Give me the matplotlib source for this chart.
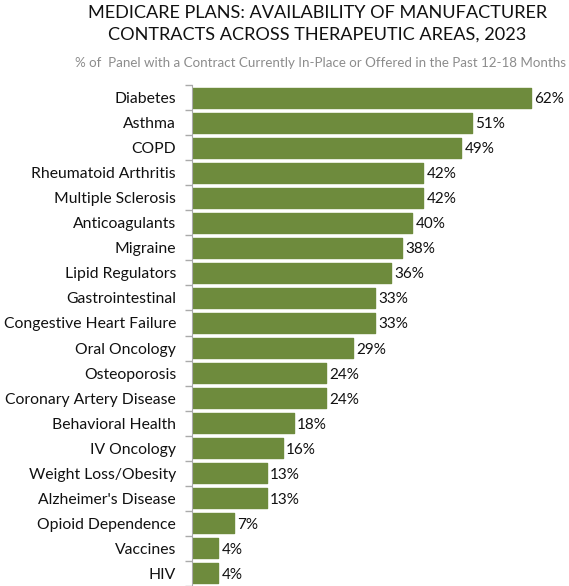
import numpy as np
import matplotlib
matplotlib.use('Agg')
import matplotlib.pyplot as plt

# Data
areas = ['Diabetes', 'Asthma', 'COPD', 'Rheumatoid Arthritis', 'Multiple Sclerosis',
         'Anticoagulants', 'Migraine', 'Lipid Regulators', 'Gastrointestinal',
         'Congestive Heart Failure', 'Oral Oncology', 'Osteoporosis',
         'Coronary Artery Disease', 'Behavioral Health', 'IV Oncology',
         'Weight Loss/Obesity', "Alzheimer's Disease", 'Opioid Dependence',
         'Vaccines', 'HIV']
pct = [62, 51, 49, 42, 42, 40, 38, 36, 33, 33, 29, 24, 24, 18, 16, 13, 13, 7, 4, 4]

plt.rcParams['font.family'] = ['Lato', 'DejaVu Sans']

fig = plt.figure(figsize=(5.69, 5.86), dpi=100)
ax = fig.add_axes([192 / 569, 0.0, 1 - 192 / 569, 1 - 85 / 586])

# value axis starts a little below zero and bars grow from the axis line
x0 = -0.83
y = np.arange(len(areas))
bar_color = '#6E8B3D'
ax.barh(y, np.array(pct) - x0, left=x0, height=0.8, color=bar_color,
        edgecolor=bar_color, linewidth=1, joinstyle='round')

for yi, v in zip(y, pct):
    ax.text(v + 0.6, yi, '%d%%' % v, va='center_baseline', ha='left',
            fontsize=11, color='#111111')

ax.set_xlim(x0, 68.98)
ax.set_ylim(len(areas) - 0.5, -0.5)
ax.set_yticks(y)
ax.set_yticklabels(areas, fontsize=11.3, color='#111111')
ax.tick_params(axis='y', which='major', length=0, pad=11.5)
ax.set_yticks(np.arange(-0.5, len(areas), 1), minor=True)
ax.tick_params(axis='y', which='minor', length=5, color='#AAAAAA', width=1)
ax.set_xticks([])

for s in ['top', 'right', 'bottom']:
    ax.spines[s].set_visible(False)
ax.spines['left'].set_color('#AAAAAA')

fig.text(0.558, 1 - 5 / 586, 'MEDICARE PLANS: AVAILABILITY OF MANUFACTURER\nCONTRACTS ACROSS THERAPEUTIC AREAS, 2023',
         ha='center', va='top', fontsize=13.1, color='#111111', linespacing=1.42)
fig.text(0.564, 1 - 63 / 586, '% of  Panel with a Contract Currently In-Place or Offered in the Past 12-18 Months',
         ha='center', va='center', fontsize=9.6, color='#8C8C8C')

fig.savefig('out.png', dpi=100)
